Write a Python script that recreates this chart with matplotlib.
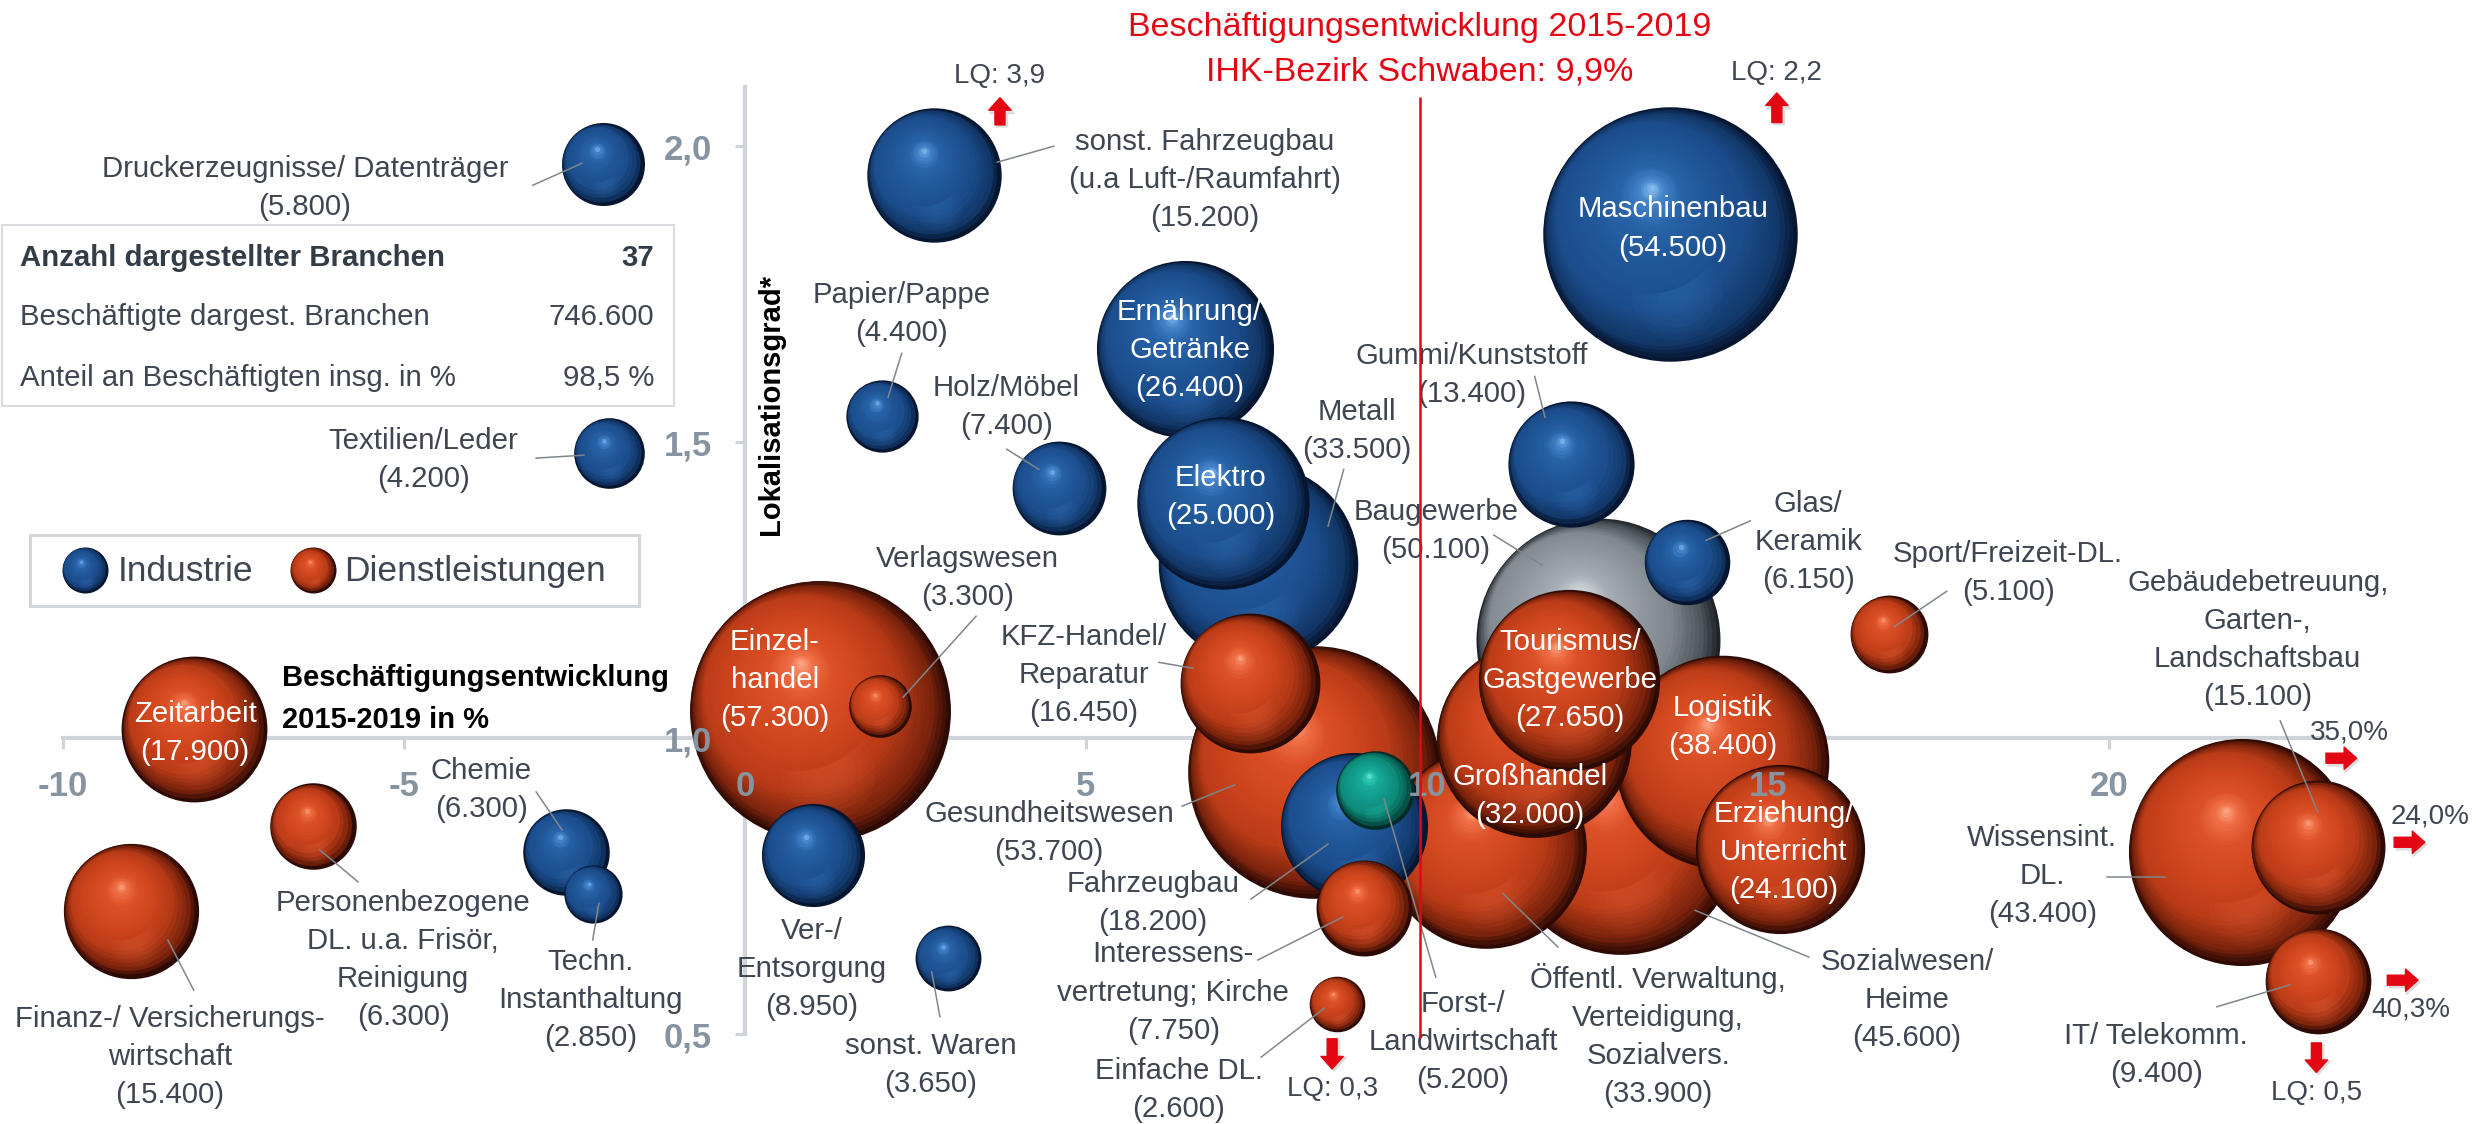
import matplotlib
matplotlib.use("Agg")
import matplotlib.pyplot as plt
import matplotlib.transforms as mtransforms
from matplotlib.colors import LinearSegmentedColormap
from matplotlib.patches import Rectangle

plt.rcParams['font.family'] = ['Liberation Sans', 'DejaVu Sans']

# ---------------------------------------------------------------- data
# Branche, Beschaeftigte, Beschaeftigungsentwicklung 2015-2019 (dargestellt), Lokalisationsgrad (dargestellt)
branchen = [
    "Druckerzeugnisse/ Datenträger", "sonst. Fahrzeugbau\n(u.a Luft-/Raumfahrt)", "Maschinenbau",
    "Papier/Pappe", "Ernährung/\nGetränke", "Holz/Möbel", "Textilien/Leder", "Elektro", "Metall",
    "Gummi/Kunststoff", "Glas/\nKeramik", "Chemie", "Techn.\nInstanthaltung", "Ver-/\nEntsorgung",
    "sonst. Waren", "Fahrzeugbau", "Baugewerbe", "Forst-/\nLandwirtschaft",
    "Zeitarbeit", "Einzel-\nhandel", "Verlagswesen", "KFZ-Handel/\nReparatur", "Gesundheitswesen",
    "Finanz-/ Versicherungs-\nwirtschaft", "Personenbezogene\nDL. u.a. Frisör,\nReinigung",
    "Interessens-\nvertretung; Kirche", "Einfache DL.", "Tourismus/\nGastgewerbe", "Großhandel",
    "Öffentl. Verwaltung,\nVerteidigung,\nSozialvers.", "Logistik", "Sozialwesen/\nHeime",
    "Erziehung/\nUnterricht", "Sport/Freizeit-DL.", "Wissensint.\nDL.",
    "Gebäudebetreuung,\nGarten-,\nLandschaftsbau", "IT/ Telekomm.",
]
beschaeftigte = [5800, 15200, 54500, 4400, 26400, 7400, 4200, 25000, 33500, 13400, 6150, 6300, 2850,
                 8950, 3650, 18200, 50100, 5200, 17900, 57300, 3300, 16450, 53700, 15400, 6300, 7750,
                 2600, 27650, 32000, 33900, 38400, 45600, 24100, 5100, 43400, 15100, 9400]
entwicklung = [-2.08, 2.77, 13.56, 2.01, 6.45, 4.60, -1.99, 7.01, 7.52, 12.11, 13.81, -2.62, -2.23,
               1.00, 2.98, 8.93, 12.51, 9.24, -8.07, 1.10, 1.98, 7.40, 8.34, -9.00, -6.33, 9.08,
               8.68, 12.08, 11.57, 10.87, 14.33, 12.85, 15.18, 16.77, 21.95, 23.06, 23.06]
lokalisation = [1.970, 1.951, 1.851, 1.544, 1.657, 1.422, 1.481, 1.397, 1.294, 1.463, 1.297, 0.807,
                0.736, 0.802, 0.628, 0.851, 1.166, 0.912, 1.015, 1.046, 1.054, 1.093, 0.943, 0.708,
                0.851, 0.713, 0.551, 1.098, 0.997, 0.814, 0.959, 0.831, 0.812, 1.176, 0.807, 0.816,
                0.590]
sektor = ["I"] * 16 + ["B", "L"] + ["D"] * 19

ref_growth = 9.9
x_ticks = [-10, -5, 0, 5, 10, 15, 20]
y_ticks = [0.5, 1.0, 1.5, 2.0]

# values beyond the axis range, shown as arrows
ausreisser = ["LQ: 3,9", "LQ: 2,2", "LQ: 0,3", "LQ: 0,5", "35,0%", "24,0%", "40,3%"]

tabelle = [("Anzahl dargestellter Branchen", "37"),
           ("Beschäftigte dargest. Branchen", "746.600"),
           ("Anteil an Beschäftigten insg. in %", "98,5 %")]

# ---------------------------------------------------------------- layout
label_pos = [(-6.45, 1.930), (6.74, 1.943), (13.61, 1.861), (2.30, 1.717), (6.52, 1.656),
             (3.83, 1.559), (-4.71, 1.470), (6.98, 1.407), (8.97, 1.519), (10.66, 1.613),
             (15.59, 1.331), (-3.86, 0.912), (-2.26, 0.557), (0.98, 0.610), (2.73, 0.448),
             (5.98, 0.722), (10.13, 1.350), (10.53, 0.486), (-8.06, 1.008), (0.44, 1.098),
             (3.26, 1.271), (4.97, 1.106), (4.46, 0.840), (-8.43, 0.461), (-5.01, 0.625),
             (6.28, 0.570), (6.36, 0.405), (12.10, 1.098), (11.51, 0.902), (13.39, 0.497),
             (14.33, 1.018), (17.04, 0.558), (15.23, 0.808), (18.52, 1.279), (19.02, 0.767),
             (22.18, 1.166), (20.69, 0.464)]
leaders = {0: ((-3.11, 1.934), (-2.39, 1.971)), 1: ((4.53, 2.000), (3.70, 1.973)),
           3: ((2.30, 1.650), (2.10, 1.576)), 5: ((3.84, 1.488), (4.31, 1.454)),
           6: ((-3.06, 1.473), (-2.36, 1.478)), 8: ((8.78, 1.454), (8.55, 1.358)),
           9: ((11.58, 1.611), (11.73, 1.542)), 10: ((14.74, 1.367), (14.09, 1.334)),
           11: ((-3.06, 0.909), (-2.68, 0.845)), 12: ((-2.14, 0.721), (-2.23, 0.659)),
           14: ((2.74, 0.605), (2.86, 0.529)), 15: ((7.42, 0.728), (8.55, 0.821)),
           16: ((10.98, 1.343), (11.69, 1.292)), 17: ((9.37, 0.897), (10.13, 0.596)),
           20: ((3.39, 1.206), (2.32, 1.069)), 21: ((6.07, 1.128), (6.57, 1.118)),
           22: ((6.41, 0.885), (7.18, 0.921)), 23: ((-8.46, 0.659), (-8.08, 0.574)),
           24: ((-6.23, 0.811), (-5.67, 0.757)), 25: ((7.52, 0.625), (8.77, 0.698)),
           26: ((7.57, 0.461), (8.50, 0.544)), 29: ((11.11, 0.738), (11.92, 0.647)),
           31: ((13.93, 0.709), (15.60, 0.630)), 33: ((17.62, 1.248), (16.85, 1.188)),
           34: ((19.97, 0.765), (20.82, 0.765)), 35: ((22.51, 1.029), (23.06, 0.875)),
           36: ((21.58, 0.546), (22.65, 0.583))}
inside = {2, 4, 7, 18, 19, 27, 28, 30, 32}
# (text position, arrow tail, arrow head)
ausreisser_pos = [((3.74, 2.118), (3.74, 2.036), (3.74, 2.082)),
                  ((15.13, 2.123), (15.13, 2.040), (15.13, 2.090)),
                  ((8.61, 0.407), (8.61, 0.492), (8.61, 0.441)),
                  ((23.04, 0.400), (23.04, 0.485), (23.04, 0.435)),
                  ((23.52, 1.010), (23.18, 0.966), (23.63, 0.966)),
                  ((24.71, 0.868), (24.18, 0.824), (24.63, 0.824)),
                  ((24.43, 0.542), (24.08, 0.591), (24.53, 0.591))]

DPI = 100
TEXT = '#3f4651'
TICK = '#8694a1'
AXIS = '#ced4d9'
RED = '#e30613'
LS = 1.46                # line spacing of the labels
RIM_DIR = (-0.6, 0.55)   # shift per unit t of the layers near the rim
HIGHLIGHT = (-0.14, 0.37)
T_RIM = 0.3


def ramp(name, colors):
    stops = [0, 0.08, 0.25, 0.5, 0.75, 0.9, 1.0]
    return LinearSegmentedColormap.from_list(name, list(zip(stops, colors)))


cmaps = {
    "I": ramp("blue", ['#061630', '#123768', '#1b4c8b', '#205697', '#2863a8', '#4585cc', '#95c7f7']),
    "D": ramp("orange", ['#2e0a04', '#7a230c', '#b93b17', '#cf451d', '#dc5027', '#ef6f47', '#ffae8e']),
    "B": ramp("gray", ['#202428', '#4d555b', '#808990', '#929ba2', '#a6aeb5', '#c6cdd3', '#f5f7f9']),
    "L": ramp("teal", ['#022b25', '#075c50', '#0e8a78', '#11998a', '#16ab98', '#31cbb5', '#9af6e6']),
}

fig = plt.figure(figsize=(24.76, 11.24), dpi=DPI)
ax = fig.add_axes([0, 0, 1, 1])
ax.set_xlim(-10.92, 25.38)
ax.set_ylim(0.348, 2.247)


def layer_shift(t):
    if t <= T_RIM:
        return t * RIM_DIR[0], t * RIM_DIR[1]
    f = (t - T_RIM) / (1 - T_RIM)
    x0, y0 = T_RIM * RIM_DIR[0], T_RIM * RIM_DIR[1]
    return x0 + f * (HIGHLIGHT[0] - x0), y0 + f * (HIGHLIGHT[1] - y0)


def disc(x, y, dx, dy, r_pt, color, z, alpha=1.0):
    off = mtransforms.ScaledTranslation(dx / 72, dy / 72, fig.dpi_scale_trans)
    ax.scatter([x], [y], s=(2 * r_pt) ** 2, color=[color], linewidths=0, alpha=alpha,
               transform=ax.transData + off, zorder=z)


def sphere(x, y, r_px, cmap, z):
    # stacked circles drifting towards the highlight give a shaded ball
    r_pt = r_px * 72 / DPI
    n = max(16, int(r_px / 2.6))
    for k in range(n):
        t = k / n
        sx, sy = layer_shift(t)
        disc(x, y, sx * r_pt, sy * r_pt, r_pt * (1 - t), cmap(t), z)
        if k == int(n * 0.35):
            # soft reflected light near the bottom
            for j in range(6):
                disc(x, y, 0.06 * r_pt, -0.47 * r_pt, r_pt * (0.36 - 0.05 * j), cmap(0.86), z, 0.06)


# biggest bubbles first, smaller ones on top
order = sorted(range(len(branchen)), key=lambda i: -beschaeftigte[i])
for rank, i in enumerate(order):
    r_px = 0.545 * beschaeftigte[i] ** 0.5
    sphere(entwicklung[i], lokalisation[i], r_px, cmaps[sektor[i]], 1 + rank * 0.01)

# labels and leader lines
for i, name in enumerate(branchen):
    txt = "%s\n(%s)" % (name, format(beschaeftigte[i], ",").replace(",", "."))
    lx, ly = label_pos[i]
    ax.text(lx, ly, txt, ha='center', va='center', ma='center', fontsize=21.2,
            linespacing=LS, color='white' if i in inside else TEXT, zorder=7)
    if i in leaders:
        (x0, y0), (x1, y1) = leaders[i]
        ax.plot([x0, x1], [y0, y1], color='#80868c', lw=1.1, zorder=6)

# arrows for values outside the range
for txt, (tpos, tail, head) in zip(ausreisser, ausreisser_pos):
    ax.text(tpos[0], tpos[1], txt, ha='center', va='center', fontsize=20, color=TEXT, zorder=7)
    style = 'simple,head_length=0.45,head_width=0.8,tail_width=0.36'
    shadow = mtransforms.offset_copy(ax.transData, fig=fig, x=1.5, y=-1.5, units='points')
    ax.annotate('', xy=head, xytext=tail, xycoords=shadow, textcoords=shadow, zorder=6.9,
                arrowprops=dict(arrowstyle=style, mutation_scale=22, color='#dcdcdc',
                                shrinkA=0, shrinkB=0))
    ax.annotate('', xy=head, xytext=tail, zorder=7,
                arrowprops=dict(arrowstyle=style, mutation_scale=20, color=RED,
                                shrinkA=0, shrinkB=0))

# reference line for the IHK district
ax.vlines(ref_growth, 0.493, 2.083, color=RED, lw=1.8, zorder=8)
ax.text(ref_growth, 2.163, "Beschäftigungsentwicklung 2015-2019\nIHK-Bezirk Schwaben: 9,9%",
        ha='center', va='center', fontsize=24.5, linespacing=1.56, color=RED, zorder=8)

# axes through the origin
for side in ['top', 'right']:
    ax.spines[side].set_visible(False)
ax.spines['left'].set_position(('data', 0))
ax.spines['bottom'].set_position(('data', 1.0))
ax.spines['left'].set_bounds(0.5, 2.1)
ax.spines['bottom'].set_bounds(-10, 23.2)
for side in ['left', 'bottom']:
    ax.spines[side].set_color(AXIS)
    ax.spines[side].set_linewidth(3)
    ax.spines[side].set_zorder(0.5)
ax.set_xticks(x_ticks, ["%d" % v for v in x_ticks], fontweight='bold')
ax.set_yticks(y_ticks, [("%.1f" % v).replace(".", ",") for v in y_ticks], fontweight='bold')
ax.tick_params(axis='x', direction='out', length=8, width=2.2, color=AXIS, pad=15,
               labelsize=25, labelcolor=TICK)
ax.tick_params(axis='y', direction='out', length=7.5, width=2.2, color=AXIS, pad=16.5,
               labelsize=25, labelcolor=TICK)
for tick, v in zip(ax.xaxis.get_major_ticks(), x_ticks):
    if v in (0, 10, 15):
        tick.tick1line.set_visible(False)
for tick, v in zip(ax.yaxis.get_major_ticks(), y_ticks):
    if v == 1.0:
        tick.tick1line.set_visible(False)
ax.xaxis.set_zorder(5)
ax.yaxis.set_zorder(5)

ax.text(-6.79, 1.066, "Beschäftigungsentwicklung\n2015-2019 in %", ha='left', va='center',
        fontsize=21, fontweight='bold', linespacing=1.6, color='black', zorder=7)
ax.text(0.38, 1.564, "Lokalisationsgrad*", rotation=90, ha='center', va='center',
        fontsize=21, fontweight='bold', color='black', zorder=7)

# info table
ax.add_patch(Rectangle((-10.89, 1.561), 9.85, 0.306, facecolor='white', edgecolor='#d9dcdf',
                       lw=1.5, zorder=3))
for (lab, val), yy in zip(tabelle, [1.811, 1.711, 1.608]):
    w = 'bold' if val == "37" else 'normal'
    c = '#333d47' if w == 'bold' else TEXT
    ax.text(-10.62, yy, lab, ha='left', va='center', fontsize=21.2, fontweight=w, color=c, zorder=4)
    ax.text(-1.33, yy, val, ha='right', va='center', fontsize=21.2, fontweight=w, color=c, zorder=4)

# legend
ax.add_patch(Rectangle((-10.48, 1.223), 8.93, 0.120, facecolor='white', edgecolor='#d3d7db',
                       lw=2.2, zorder=3))
sphere(-9.68, 1.284, 23, cmaps["I"], 4)
sphere(-6.33, 1.284, 23, cmaps["D"], 4)
ax.text(-9.19, 1.281, "Industrie", ha='left', va='center', fontsize=25.5, color=TEXT, zorder=4)
ax.text(-5.87, 1.281, "Dienstleistungen", ha='left', va='center', fontsize=25.5, color=TEXT, zorder=4)

fig.savefig("out.png", dpi=DPI, facecolor='white')
